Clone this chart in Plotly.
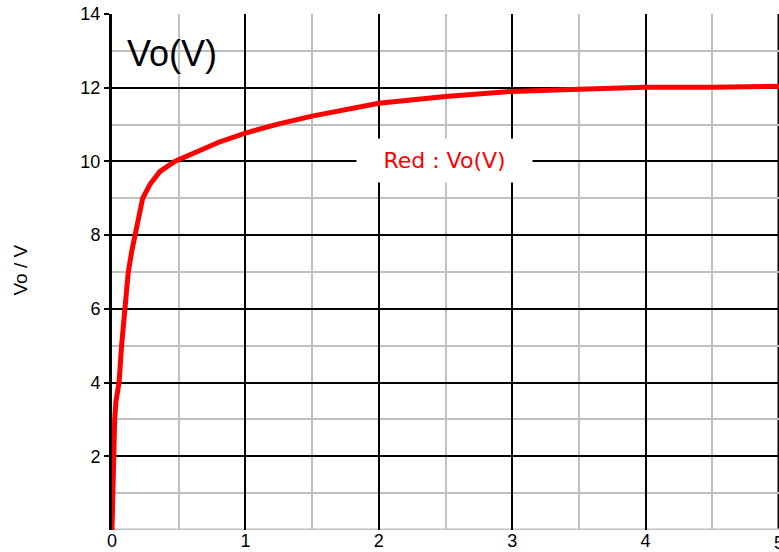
import plotly.graph_objects as go

time_s = [0, 0.004, 0.008, 0.015, 0.02, 0.03, 0.04, 0.053, 0.072, 0.093, 0.122, 0.15, 0.172, 0.2,
          0.23, 0.285, 0.36, 0.47, 0.55, 0.66, 0.8, 1.0, 1.25, 1.5, 1.75, 2.0, 2.5, 3.0, 3.5, 4.0, 4.5, 5.0]
vo = [0, 1.0, 2.0, 2.7, 3.0, 3.5, 3.75, 4.0, 5.0, 6.0, 7.0, 7.6, 8.0, 8.5,
      9.0, 9.38, 9.73, 10.0, 10.12, 10.32, 10.52, 10.77, 11.02, 11.23, 11.42, 11.58, 11.76, 11.9, 11.96, 12.01, 12.01, 12.04]

x_ticks = [0, 1, 2, 3, 4, 5]
y_ticks = [2, 4, 6, 8, 10, 12, 14]
x_min, x_max = 0, 5
y_min, y_max = 0, 14

fig = go.Figure()
fig.add_trace(go.Scatter(x=time_s, y=vo, mode="lines",
                         line=dict(color="#ff0000", width=5), showlegend=False))

fig.update_layout(
    width=779, height=552,
    margin=dict(l=112, r=0, t=14, b=22),
    paper_bgcolor="white", plot_bgcolor="white",
    font=dict(family="Liberation Sans, Arial", size=18, color="black"),
    xaxis=dict(range=[x_min, x_max], tickvals=x_ticks, ticktext=[str(v) for v in x_ticks],
               showgrid=True, gridcolor="black", gridwidth=2,
               minor=dict(dtick=0.5, showgrid=True, gridcolor="#c0c0c0", gridwidth=2),
               zeroline=False, showline=False, ticks="", ticklen=0,
               automargin=False, ticklabelstandoff=-2,
               tickfont=dict(size=18)),
    yaxis=dict(range=[y_min, y_max], tickvals=y_ticks, ticktext=[str(v) for v in y_ticks],
               showgrid=True, gridcolor="black", gridwidth=2,
               minor=dict(dtick=1, showgrid=True, gridcolor="#c0c0c0", gridwidth=2),
               zeroline=False, showline=True, linecolor="black", linewidth=3,
               ticks="outside", ticklen=5, tickwidth=2, tickcolor="black",
               automargin=False,
               tickfont=dict(size=18)),
)

# edge grid lines (right major line, bottom minor line)
fig.add_shape(type="line", xref="x", yref="y", x0=x_max, x1=x_max, y0=y_min, y1=y_max,
              line=dict(color="black", width=3), layer="below")
fig.add_shape(type="line", xref="x", yref="y", x0=x_min, x1=x_max, y0=y_min, y1=y_min,
              line=dict(color="#c0c0c0", width=3), layer="below")
# last x tick label, partly cut at the right edge as in the reference
fig.add_annotation(xref="x", yref="paper", x=x_max, y=0, yanchor="top", yshift=-1,
                   text=str(x_max), showarrow=False,
                   font=dict(family="Liberation Sans, Arial", size=18, color="black"))

fig.add_annotation(xref="paper", yref="paper", x=(125 - 112) / 667, y=(530 - 53) / 516,
                   xanchor="left", yanchor="middle", text="Vo(V)", showarrow=False,
                   font=dict(family="Liberation Sans, Arial", size=36, color="black"))
fig.add_annotation(xref="paper", yref="paper", x=(19.5 - 112) / 667, y=(530 - 270) / 516,
                   xanchor="center", yanchor="middle", text="Vo / V", showarrow=False,
                   textangle=-90, font=dict(family="Liberation Sans, Arial", size=19, color="black"))
fig.add_annotation(x=2.49, y=10.03, text="Red : Vo(V)", showarrow=False,
                   bgcolor="white", width=175, height=43, borderpad=0,
                   font=dict(family="DejaVu Sans, Verdana", size=22, color="#ff0000"))

fig.write_html("out.html", config={"displayModeBar": False},
               post_script="document.body.style.margin='0';document.body.style.overflow='hidden';")
